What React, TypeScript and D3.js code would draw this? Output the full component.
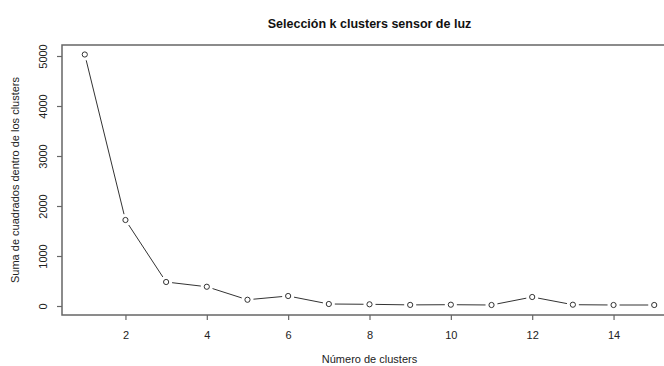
import React, { useEffect, useRef } from "react";
import * as d3 from "d3";

const clusters = [1, 2, 3, 4, 5, 6, 7, 8, 9, 10, 11, 12, 13, 14, 15];
const withinSS = [5030, 1720, 480, 385, 125, 200, 40, 34, 22, 26, 20, 180, 26, 20, 20];
const xTicks = [2, 4, 6, 8, 10, 12, 14];
const yTicks = [0, 1000, 2000, 3000, 4000, 5000];

const App: React.FC = () => {
  const chartRef = useRef<SVGSVGElement | null>(null);

  useEffect(() => {
    if (!chartRef.current) return;
    const width = 664,
      height = 366;
    const margin = { top: 45, right: -13, bottom: 51, left: 62 };
    const svg = d3.select(chartRef.current);
    svg.selectAll("*").remove();

    const font = "'Liberation Sans', Arial, Helvetica, sans-serif";
    const axisColor = "#666";
    const textColor = "#222";

    // R-style scales, with 4% padding on both ends
    const x = d3
      .scaleLinear()
      .domain([0.44, 15.56])
      .range([margin.left, width - margin.right]);
    const y = d3
      .scaleLinear()
      .domain([-180, 5220])
      .range([height - margin.bottom, margin.top]);

    const x0 = margin.left,
      x1 = width - margin.right,
      y0 = margin.top,
      y1 = height - margin.bottom;

    // box
    svg
      .append("rect")
      .attr("x", x0)
      .attr("y", y0)
      .attr("width", x1 - x0)
      .attr("height", y1 - y0)
      .attr("fill", "none")
      .attr("stroke", axisColor)
      .attr("stroke-width", 1.5);

    // x axis
    const xAxis = svg
      .append("g")
      .attr("transform", `translate(0,${y1})`)
      .call(d3.axisBottom(x).tickValues(xTicks).tickSize(5).tickPadding(11));
    xAxis.select(".domain").remove();
    xAxis.selectAll("line").attr("stroke", axisColor).attr("stroke-width", 1.2);
    xAxis
      .selectAll("text")
      .attr("font-family", font)
      .attr("font-size", 11)
      .attr("fill", textColor);

    // y axis, labels rotated like R
    const yAxis = svg
      .append("g")
      .attr("transform", `translate(${x0},0)`)
      .call(d3.axisLeft(y).tickValues(yTicks).tickSize(5).tickFormat(d3.format("d")));
    yAxis.select(".domain").remove();
    yAxis.selectAll("line").attr("stroke", axisColor).attr("stroke-width", 1.2);
    yAxis
      .selectAll("text")
      .attr("font-family", font)
      .attr("font-size", 11)
      .attr("fill", textColor)
      .attr("x", 0)
      .attr("dy", null)
      .attr("text-anchor", "middle")
      .attr("transform", "translate(-19.5,0) rotate(-90)")
      .attr("y", 4);

    // lines between points with gaps (type = "b")
    const gap = 6;
    const pts = clusters.map((c, i) => [x(c), y(withinSS[i])]);
    for (let i = 0; i < pts.length - 1; i++) {
      const [ax, ay] = pts[i];
      const [bx, by] = pts[i + 1];
      const len = Math.hypot(bx - ax, by - ay);
      if (len <= 2 * gap) continue;
      const ux = (bx - ax) / len,
        uy = (by - ay) / len;
      svg
        .append("line")
        .attr("x1", ax + ux * gap)
        .attr("y1", ay + uy * gap)
        .attr("x2", bx - ux * gap)
        .attr("y2", by - uy * gap)
        .attr("stroke", "#333")
        .attr("stroke-width", 1);
    }

    svg
      .selectAll("circle.pt")
      .data(clusters)
      .enter()
      .append("circle")
      .attr("class", "pt")
      .attr("cx", (d) => x(d))
      .attr("cy", (_, i) => y(withinSS[i]))
      .attr("r", 2.6)
      .attr("fill", "none")
      .attr("stroke", "#333")
      .attr("stroke-width", 1);

    // titles
    const cx = (x0 + x1) / 2;
    svg
      .append("text")
      .attr("x", cx)
      .attr("y", 28)
      .attr("text-anchor", "middle")
      .attr("font-family", font)
      .attr("font-size", 12.5)
      .attr("font-weight", "bold")
      .attr("fill", "#111")
      .text("Selección k clusters sensor de luz");

    svg
      .append("text")
      .attr("x", cx)
      .attr("y", 363)
      .attr("text-anchor", "middle")
      .attr("font-family", font)
      .attr("font-size", 11)
      .attr("fill", textColor)
      .text("Número de clusters");

    svg
      .append("text")
      .attr("transform", `translate(19,${(y0 + y1) / 2}) rotate(-90)`)
      .attr("text-anchor", "middle")
      .attr("font-family", font)
      .attr("font-size", 11)
      .attr("fill", textColor)
      .text("Suma de cuadrados dentro de los clusters");
  }, []);

  return (
    <svg
      ref={chartRef}
      width={664}
      height={366}
      style={{ position: "absolute", left: 0, top: 0, background: "#fff" }}
    ></svg>
  );
};

export default App;
